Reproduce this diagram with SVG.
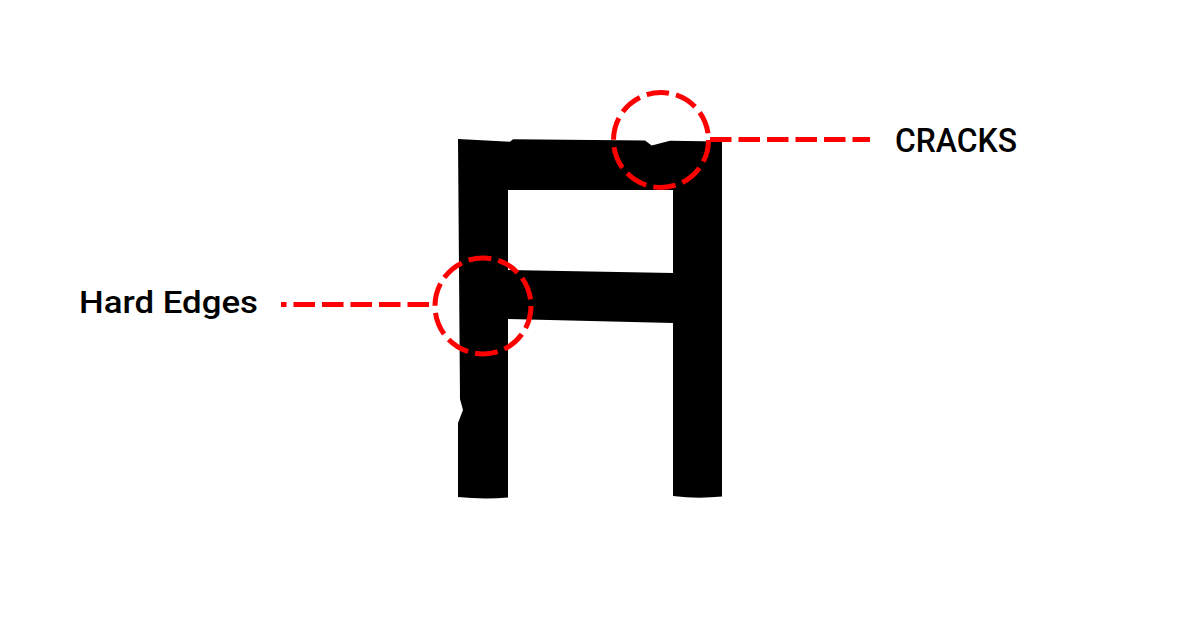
<svg xmlns="http://www.w3.org/2000/svg" width="1181" height="638" viewBox="0 0 1181 638">
  <style>
    .lbl { font-family: Roboto, "Liberation Sans", sans-serif; font-weight: 500; fill: #000; }
    .ring { fill: none; stroke: #ff0000; stroke-width: 5; }
    .lead { fill: none; stroke: #ff0000; stroke-width: 5; stroke-dasharray: 21.5 7; }
  </style>
  <rect width="1181" height="638" fill="#ffffff"/>
  <g id="letter">
    <path fill="#000" fill-rule="evenodd" d="M458,139 L510,141.7 L513,139.3 L645,140.5 L651.7,145.5 L670,140.7 L722,141.5 L722,496.5 Q697,499 673,496 L673,323 L508,319 L508,497.5 Q483,499.5 458,497 L458,423 L463,410 L460,399 Z M508,190 L673,190 L673,273 L508,270 Z"/>
  </g>
  <g id="connectors">
    <line class="lead" x1="710" y1="139.5" x2="870" y2="139.5"/>
    <line class="lead" x1="429" y1="304.5" x2="281" y2="304.5"/>
  </g>
  <g id="cracks-marker">
    <circle class="ring" cx="661" cy="140" r="47.5" stroke-dasharray="22.5 7.35"/>
  </g>
  <g id="hard-edges-marker">
    <circle class="ring" cx="483" cy="306" r="48" stroke-dasharray="23 7.16"/>
  </g>
  <g id="label-cracks">
    <text class="lbl" x="895" y="151.7" font-size="32.5" textLength="122" lengthAdjust="spacingAndGlyphs">CRACKS</text>
  </g>
  <g id="label-hard-edges">
    <text class="lbl" x="79" y="313.3" font-size="30.5" textLength="179" lengthAdjust="spacingAndGlyphs">Hard Edges</text>
  </g>
</svg>
